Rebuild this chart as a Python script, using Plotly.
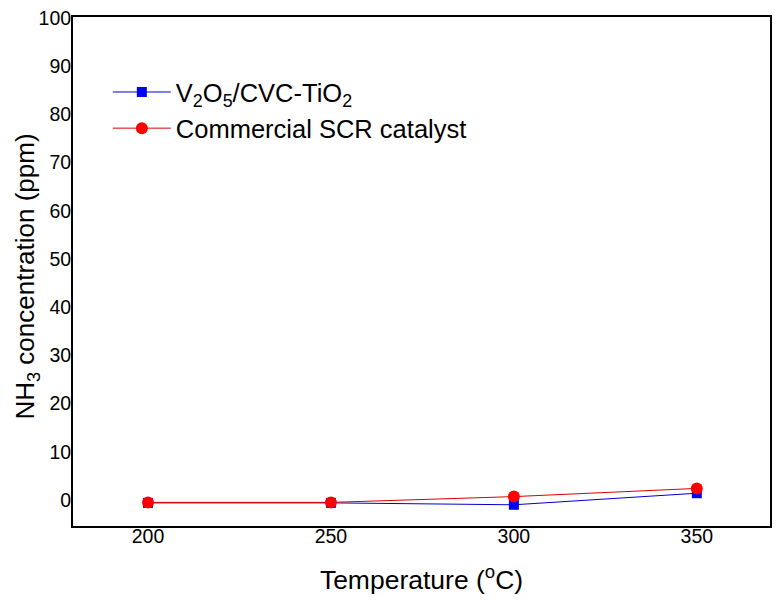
import plotly.graph_objects as go

# ── Data ──────────────────────────────────────────────────────────────────────
temperature = [200, 250, 300, 350]
v2o5_cvc = [-0.6, -0.6, -1.0, 1.4]
commercial = [-0.5, -0.5, 0.7, 2.4]

x_ticks = [200, 250, 300, 350]
y_ticks = [0, 10, 20, 30, 40, 50, 60, 70, 80, 90, 100]

FONT = "Arial, Liberation Sans, sans-serif"

fig = go.Figure()

fig.add_trace(go.Scatter(
    x=temperature, y=v2o5_cvc,
    mode="lines+markers",
    name="V<sub>2</sub>O<sub>5</sub>/CVC-TiO<sub>2</sub>",
    line=dict(color="#0000cc", width=1),
    marker=dict(symbol="square", size=10, color="#0000ff"),
))

fig.add_trace(go.Scatter(
    x=temperature, y=commercial,
    mode="lines+markers",
    name="Commercial SCR catalyst",
    line=dict(color="#dd0000", width=1),
    marker=dict(symbol="circle", size=12, color="#ff0000"),
))

# y title as an annotation so it can sit close to the page edge
fig.add_annotation(
    text="NH<sub>3</sub> concentration (ppm)",
    xref="paper", yref="paper", x=0, y=0.49,
    xshift=-46, xanchor="center", yanchor="middle",
    textangle=-90, showarrow=False, borderpad=0,
    font=dict(size=26, family=FONT, color="black"),
)

# page body has an 8px margin, so the figure is a bit smaller than the window
fig.update_layout(
    width=775, height=595,
    paper_bgcolor="white",
    plot_bgcolor="white",
    font=dict(family=FONT, color="black"),
    margin=dict(l=65, r=13, t=9, b=77, autoexpand=False),
    showlegend=True,
    legend=dict(
        x=0.05, y=0.898,
        xanchor="left", yanchor="top",
        bgcolor="rgba(0,0,0,0)",
        font=dict(size=25.5, family=FONT),
        itemwidth=58,
        tracegroupgap=1,
    ),
    xaxis=dict(
        range=[179.5, 370],
        tickvals=x_ticks,
        ticks="", showgrid=False, zeroline=False,
        showline=True, linecolor="black", linewidth=2, mirror=True,
        tickfont=dict(size=19.5),
        ticklabelstandoff=-8,
        ticklabeloverflow="allow",
        title=dict(text="Temperature (<sup>o</sup>C)", font=dict(size=26.5), standoff=24),
        automargin=False,
    ),
    yaxis=dict(
        range=[-5.4, 100.2],
        tickvals=y_ticks,
        ticks="", showgrid=False, zeroline=False,
        showline=True, linecolor="black", linewidth=2, mirror=True,
        tickfont=dict(size=19.5),
        ticklabelstandoff=-4,
        ticklabeloverflow="allow",
        automargin=False,
    ),
)

fig.write_html("out.html")
